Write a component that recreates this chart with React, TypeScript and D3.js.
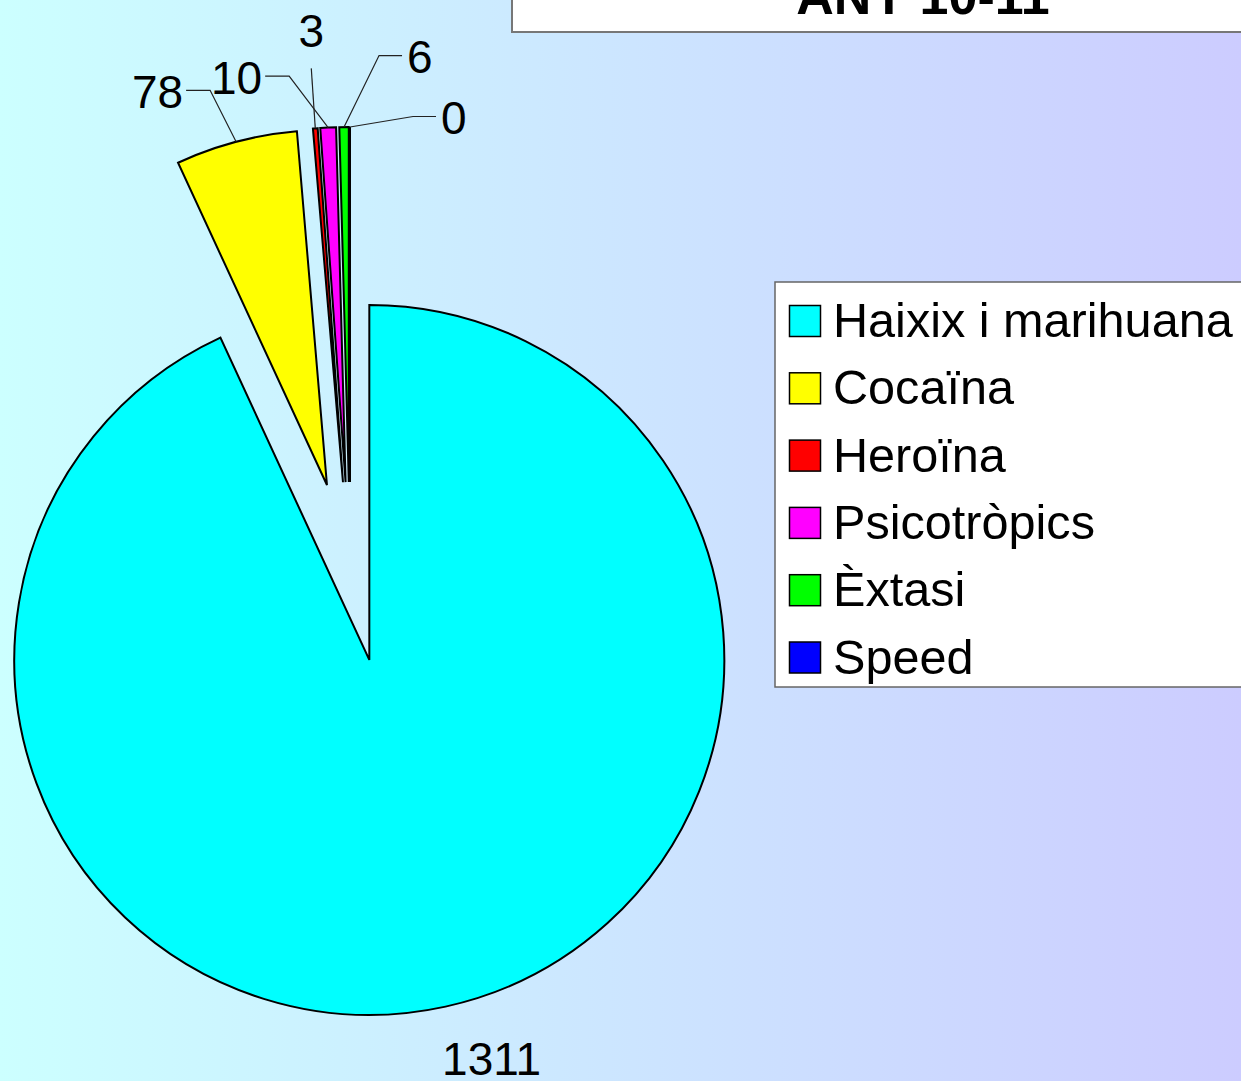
import React from 'react';
import * as d3 from 'd3';

const categories = ['Haixix i marihuana', 'Cocaïna', 'Heroïna', 'Psicotròpics', 'Èxtasi', 'Speed'];
const values = [1311, 78, 3, 10, 6, 0];
const colors = ['#00ffff', '#ffff00', '#ff0000', '#ff00ff', '#00ff00', '#0000ff'];
const title = 'ANY 10-11';

const W = 1241;
const H = 1081;
const cx = 350;
const cy = 572;
const radius = 355;
const explode = 90;

// label placement relative to the outer middle of each slice
// side: where the label sits compared to its leader line
const labelLayout = [
  { dx: 46, dy: 68, side: 'none' },
  { dx: -53, dy: -34, side: 'left' },
  { dx: -4, dy: -81, side: 'top' },
  { dx: -66, dy: -34, side: 'left' },
  { dx: 63, dy: -54, side: 'right' },
  { dx: 91, dy: 7, side: 'right' },
];

const font = '"Liberation Sans", Arial, sans-serif';

export default function App() {
  const pie = d3.pie<number>().sort(null).value(d => d);
  const arcs = pie(values);
  const arc = d3.arc<d3.PieArcDatum<number>>().innerRadius(0).outerRadius(radius);

  const dir = (a: number): [number, number] => [Math.sin(a), -Math.cos(a)];

  const legendY = d3.scaleLinear().domain([0, 1]).range([337, 404.3]);

  return (
    <svg width={W} height={H} style={{ position: 'absolute', left: 0, top: 0 }} fontFamily={font}>
      <defs>
        <linearGradient id="bg" x1="0" y1="0" x2="1" y2="0">
          <stop offset="0%" stopColor="#ccffff" />
          <stop offset="100%" stopColor="#ccccff" />
        </linearGradient>
      </defs>
      <rect x={0} y={0} width={W} height={H} fill="url(#bg)" />

      {/* title box, mostly outside the page */}
      <rect x={512} y={-20} width={800} height={52} fill="#fff" stroke="#777" strokeWidth={2} />
      <text x={923} y={14} textAnchor="middle" fontSize={52} fontWeight="bold" fill="#000">{title}</text>

      {/* slices */}
      {arcs.map((a, i) => {
        const mid = (a.startAngle + a.endAngle) / 2;
        const [ux, uy] = dir(mid);
        const tx = cx + ux * explode;
        const ty = cy + uy * explode;
        return (
          <path
            key={categories[i]}
            d={arc(a) || ''}
            transform={`translate(${tx},${ty})`}
            fill={colors[i]}
            stroke="#000"
            strokeWidth={2}
          />
        );
      })}

      {/* value labels with leader lines */}
      {arcs.map((a, i) => {
        const mid = (a.startAngle + a.endAngle) / 2;
        const [ux, uy] = dir(mid);
        const ax = cx + ux * (explode + radius);
        const ay = cy + uy * (explode + radius);
        const L = labelLayout[i];
        const lx = ax + L.dx;
        const ly = ay + L.dy;
        const midY = ly - 17.5;
        let pts: [number, number][] = [];
        let anchor: 'start' | 'middle' | 'end' = 'middle';
        if (L.side === 'left') {
          anchor = 'end';
          pts = [[ax, ay], [lx + 27, midY], [lx + 3, midY]];
        } else if (L.side === 'right') {
          anchor = 'start';
          pts = [[ax, ay], [lx - 28, midY], [lx - 5, midY]];
        } else if (L.side === 'top') {
          pts = [[ax, ay], [lx, ly + 21]];
        }
        return (
          <g key={'lab' + i}>
            {pts.length > 0 && (
              <path d={d3.line()(pts) || ''} fill="none" stroke="#222" strokeWidth={1.2} />
            )}
            <text x={lx} y={ly} textAnchor={anchor} fontSize={46} fill="#000">{values[i]}</text>
          </g>
        );
      })}

      {/* legend */}
      <rect x={775} y={282} width={500} height={405} fill="#fff" stroke="#666" strokeWidth={1.5} />
      {categories.map((c, i) => {
        const by = legendY(i);
        return (
          <g key={'leg' + i}>
            <rect x={789.5} y={by - 31.5} width={31} height={31} fill={colors[i]} stroke="#000" strokeWidth={1.5} />
            <text x={833} y={by} fontSize={48.6} fill="#000">{c}</text>
          </g>
        );
      })}
    </svg>
  );
}
